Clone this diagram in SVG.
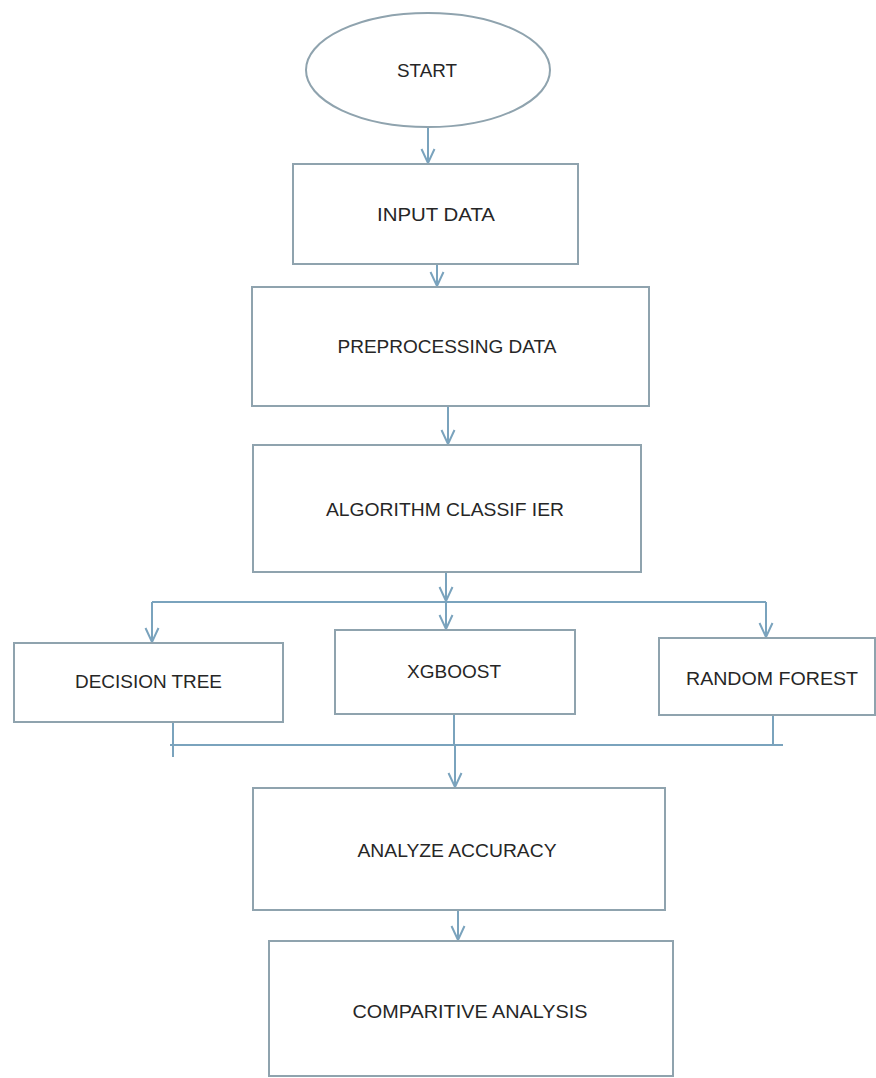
<svg xmlns="http://www.w3.org/2000/svg" width="876" height="1078" viewBox="0 0 876 1078">
<style>
.box{fill:#ffffff;stroke:#8fa3ae;stroke-width:2}
.lbl{font-family:"Liberation Sans",Arial,sans-serif;font-size:19px;fill:#262626;text-anchor:middle}
.con{fill:none;stroke:#7aa3bd;stroke-width:2}
</style>
<defs>
<marker id="ah" markerUnits="userSpaceOnUse" viewBox="-16 -9 18 18" refX="0" refY="0" markerWidth="18" markerHeight="18" orient="auto">
<path d="M-14,-6.5 L0,0 L-14,6.5" fill="none" stroke="#7aa3bd" stroke-width="2"/>
</marker>
</defs>
<rect width="876" height="1078" fill="#ffffff"/>
<g id="connectors">
<line class="con" x1="428" y1="127" x2="428" y2="163" marker-end="url(#ah)"/>
<line class="con" x1="437" y1="264" x2="437" y2="286" marker-end="url(#ah)"/>
<line class="con" x1="448" y1="406" x2="448" y2="444" marker-end="url(#ah)"/>
<line class="con" x1="446" y1="572" x2="446" y2="601" marker-end="url(#ah)"/>
<line class="con" x1="446" y1="601" x2="446" y2="629" marker-end="url(#ah)"/>
<line class="con" x1="152" y1="602" x2="766" y2="602"/>
<line class="con" x1="152" y1="602" x2="152" y2="642" marker-end="url(#ah)"/>
<line class="con" x1="766" y1="602" x2="766" y2="637" marker-end="url(#ah)"/>
<line class="con" x1="173" y1="722" x2="173" y2="757"/>
<line class="con" x1="454" y1="714" x2="454" y2="745"/>
<line class="con" x1="773" y1="715" x2="773" y2="745"/>
<line class="con" x1="170" y1="745" x2="783" y2="745"/>
<line class="con" x1="455" y1="745" x2="455" y2="787" marker-end="url(#ah)"/>
<line class="con" x1="458" y1="910" x2="458" y2="940" marker-end="url(#ah)"/>
</g>
<g id="start">
<ellipse class="box" cx="428" cy="70" rx="122" ry="57"/>
<text class="lbl" x="427" y="77" textLength="60" lengthAdjust="spacingAndGlyphs">START</text>
</g>
<g id="input-data">
<rect class="box" x="293" y="164" width="285" height="100"/>
<text class="lbl" x="436" y="221" textLength="118" lengthAdjust="spacingAndGlyphs">INPUT DATA</text>
</g>
<g id="preprocessing">
<rect class="box" x="252" y="287" width="397" height="119"/>
<text class="lbl" x="447" y="353" textLength="219" lengthAdjust="spacingAndGlyphs">PREPROCESSING DATA</text>
</g>
<g id="algorithm">
<rect class="box" x="253" y="445" width="388" height="127"/>
<text class="lbl" x="445" y="516" textLength="238" lengthAdjust="spacingAndGlyphs">ALGORITHM CLASSIF IER</text>
</g>
<g id="decision-tree">
<rect class="box" x="14" y="643" width="269" height="79"/>
<text class="lbl" x="148.5" y="688" textLength="147" lengthAdjust="spacingAndGlyphs">DECISION TREE</text>
</g>
<g id="xgboost">
<rect class="box" x="335" y="630" width="240" height="84"/>
<text class="lbl" x="454" y="678" textLength="94" lengthAdjust="spacingAndGlyphs">XGBOOST</text>
</g>
<g id="random-forest">
<rect class="box" x="659" y="638" width="216" height="77"/>
<text class="lbl" x="772" y="685" textLength="172" lengthAdjust="spacingAndGlyphs">RANDOM FOREST</text>
</g>
<g id="analyze-accuracy">
<rect class="box" x="253" y="788" width="412" height="122"/>
<text class="lbl" x="457" y="857" textLength="199" lengthAdjust="spacingAndGlyphs">ANALYZE ACCURACY</text>
</g>
<g id="comparative-analysis">
<rect class="box" x="269" y="941" width="404" height="135"/>
<text class="lbl" x="470" y="1018" textLength="235" lengthAdjust="spacingAndGlyphs">COMPARITIVE ANALYSIS</text>
</g>
</svg>
